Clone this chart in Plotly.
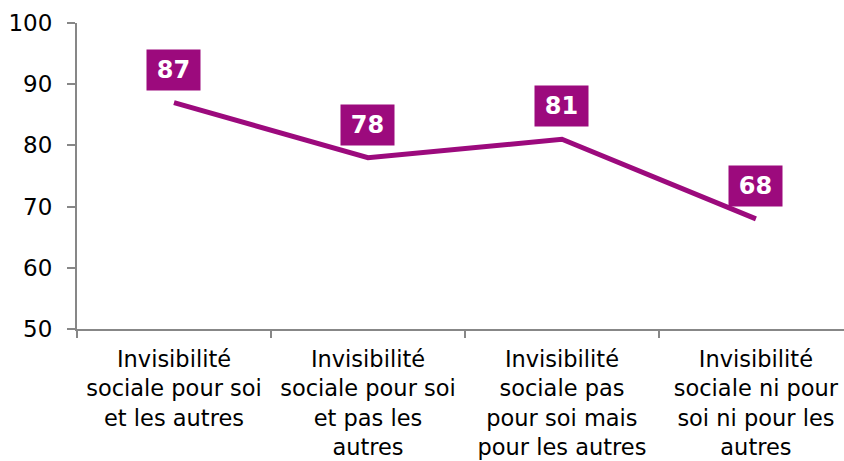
import plotly.graph_objects as go

categories = [
    "Invisibilité<br>sociale pour soi<br>et les autres",
    "Invisibilité<br>sociale pour soi<br>et pas les<br>autres",
    "Invisibilité<br>sociale pas<br>pour soi mais<br>pour les autres",
    "Invisibilité<br>sociale ni pour<br>soi ni pour les<br>autres",
]
values = [87, 78, 81, 68]
y_ticks = [50, 60, 70, 80, 90, 100]

purple = "#9C0A7D"
axis_grey = "#878787"

fig = go.Figure()
fig.add_trace(go.Scatter(
    x=categories, y=values, mode="lines",
    line=dict(color=purple, width=5),
    hoverinfo="skip",
))

for c, v in zip(categories, values):
    fig.add_annotation(
        x=c, y=v, yshift=33, text="<b>%d</b>" % v, showarrow=False,
        bgcolor=purple, width=51, height=38,
        font=dict(family="DejaVu Sans", size=24, color="white"),
        xanchor="center", yanchor="middle",
    )

fig.update_layout(
    width=844, height=461,
    margin=dict(l=77, r=0, t=23, b=132),
    paper_bgcolor="white", plot_bgcolor="white",
    showlegend=False,
    font=dict(family="DejaVu Sans", size=22.5, color="#000000"),
)
fig.update_xaxes(
    type="category",
    range=[-0.5, 3.454],
    tickson="boundaries",
    ticks="outside", ticklen=7, tickwidth=2, tickcolor=axis_grey,
    showline=True, linecolor=axis_grey, linewidth=2,
    showgrid=False, zeroline=False, automargin=False,
    ticklabelstandoff=9,
    tickfont=dict(size=22.5),
)
fig.update_yaxes(
    range=[50, 100], tickvals=y_ticks,
    ticks="outside", ticklen=8, tickwidth=2, tickcolor=axis_grey,
    showline=True, linecolor=axis_grey, linewidth=2,
    showgrid=False, zeroline=False, automargin=False,
    ticklabelstandoff=10,
    tickfont=dict(size=23),
)

fig.write_html("out.html", config={"displayModeBar": False},
               post_script="document.body.style.margin='0';")
